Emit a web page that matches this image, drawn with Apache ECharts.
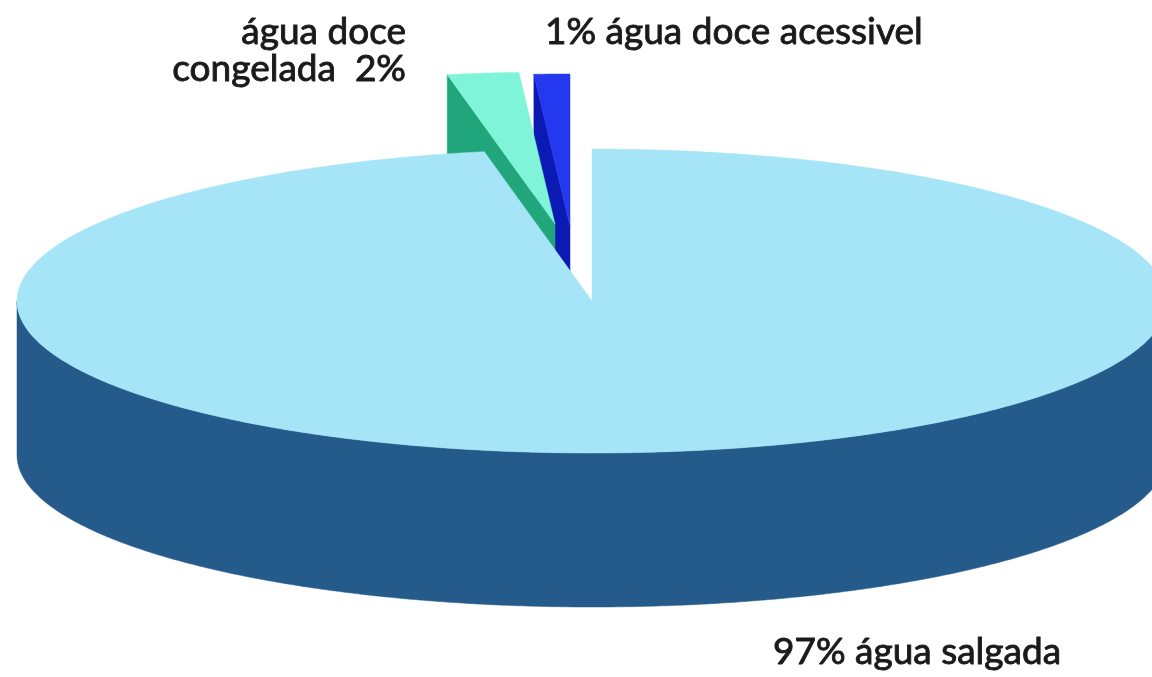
<!DOCTYPE html>
<html>
<head>
<meta charset="utf-8">
<script src="https://cdn.jsdelivr.net/npm/echarts@6/dist/echarts.min.js"></script>
<style>
html,body{margin:0;padding:0;background:#fff;}
#chart{width:1152px;height:677px;}
</style>
</head>
<body>
<div id="chart"></div>
<script>
// ---- data ----
const categories = ['água salgada', 'água doce congelada', 'água doce acessivel'];
const values = [97, 2, 1];
const labelLines = [['97% água salgada'], ['água doce', 'congelada  2%'], ['1% água doce acessivel']];

// ---- styles / geometry ----
const topColors = ['#a6e5f8', '#80f4d8', '#2438f0'];
const sideColors = ['#245b8b', '#21a67c', '#0b1ab2'];
const offsets = [[0, 0], [-37, -77], [-22, -75]];
const zBase = [10, 4, 0];
const G = { cx: 592, cy: 301, rx: 575, ry: 152, depth: 154 };

const total = values.reduce((a, b) => a + b, 0);
const starts = [];
let acc = 0;
values.forEach(v => { starts.push(acc / total * 360); acc += v; });

function pt(theta, r, z, off) {
  const a = theta * Math.PI / 180;
  return [G.cx + off[0] + r * G.rx * Math.sin(a), G.cy + off[1] - r * G.ry * Math.cos(a) + z * G.depth];
}
function faces(normal) {
  return Math.cos(normal * Math.PI / 180) < -1e-6;
}

function renderItem(params, api) {
  const i = params.dataIndex;
  const v = api.value(1);
  const a0 = starts[i];
  const a1 = a0 + v / total * 360;
  const off = offsets[i];
  const children = [];
  const zb = zBase[i];
  // radial walls
  [[a0, a0 - 90], [a1, a1 + 90]].forEach(([ang, nrm]) => {
    if (faces(nrm)) {
      children.push({
        type: 'polygon', z2: zb + 1,
        shape: { points: [pt(ang, 0, 0, off), pt(ang, 1, 0, off), pt(ang, 1, 1, off), pt(ang, 0, 1, off)] },
        style: { fill: sideColors[i], stroke: sideColors[i], lineWidth: 0.5 }
      });
    }
  });
  // outer curved wall (front half only)
  const s = Math.max(a0, 90), e = Math.min(a1, 270);
  if (e > s) {
    const pts = [];
    const n = Math.max(4, Math.ceil((e - s) / 0.5));
    for (let k = 0; k <= n; k++) pts.push(pt(s + (e - s) * k / n, 1, 0, off));
    for (let k = n; k >= 0; k--) pts.push(pt(s + (e - s) * k / n, 1, 1, off));
    children.push({
      type: 'polygon', z2: zb + 2,
      shape: { points: pts },
      style: { fill: sideColors[i], stroke: sideColors[i], lineWidth: 0.5 }
    });
  }
  // top face
  const tp = [pt(a0, 0, 0, off)];
  const n2 = Math.max(4, Math.ceil((a1 - a0) / 0.5));
  for (let k = 0; k <= n2; k++) tp.push(pt(a0 + (a1 - a0) * k / n2, 1, 0, off));
  children.push({
    type: 'polygon', z2: zb + 3,
    shape: { points: tp },
    style: { fill: topColors[i], stroke: topColors[i], lineWidth: 0.5 }
  });
  return { type: 'group', children };
}

const font = { fontFamily: 'Lato', fontSize: 37, fontWeight: 'normal', fill: '#1a1a1a', stroke: '#1a1a1a', lineWidth: 0.9 };
function txt(text, x, baseline, align) {
  return { type: 'text', z: 50, style: Object.assign({ text, x, y: baseline - 11, align, verticalAlign: 'middle' }, font) };
}

const chart = echarts.init(document.getElementById('chart'), null, { renderer: 'canvas' });
chart.setOption({
  backgroundColor: '#ffffff',
  animation: false,
  series: [{
    type: 'custom',
    coordinateSystem: 'none',
    renderItem,
    data: categories.map((c, i) => ({ name: c, value: [i, values[i]] }))
  }],
  graphic: [
    txt(labelLines[1][0], 406, 43, 'right'),
    txt(labelLines[1][1], 406, 80, 'right'),
    txt(labelLines[2][0], 545, 43, 'left'),
    txt(labelLines[0][0], 773, 663, 'left')
  ]
});
</script>
</body>
</html>
